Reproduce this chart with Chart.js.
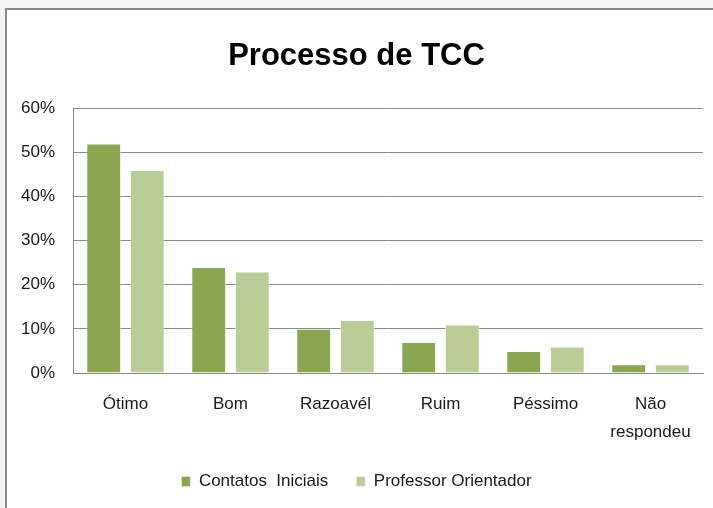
<!DOCTYPE html>
<html>
<head>
<meta charset="utf-8">
<script src="https://cdn.jsdelivr.net/npm/chart.js@4.4.1/dist/chart.umd.min.js"></script>
<style>
  html, body { margin: 0; padding: 0; background: #f3f3f3; }
  body { width: 713px; height: 508px; position: relative; overflow: hidden; }
  #frame {
    position: absolute; left: 5px; top: 8px; width: 760px; height: 560px;
    background: #ffffff; border-left: 2px solid #8a8a8a; border-top: 2px solid #8a8a8a;
  }
  #wrap { position: absolute; left: 0; top: 0; width: 713px; height: 508px; }
</style>
</head>
<body>
<div id="frame"></div>
<div id="wrap"><canvas id="chart"></canvas></div>
<script>
const CATEGORIES = ["Ótimo", "Bom", "Razoavél", "Ruim", "Péssimo", ["Não", "respondeu"]];
const CONTATOS_INICIAIS = [52, 24, 10, 7, 5, 2];
const PROFESSOR_ORIENTADOR = [46, 23, 12, 11, 6, 2];
const Y_TICKS = [0, 10, 20, 30, 40, 50, 60];

const FONT = '"Liberation Sans Narrow", "Liberation Sans", Arial, sans-serif';

const ctx = document.getElementById("chart");

new Chart(ctx, {
  type: "bar",
  data: {
    labels: CATEGORIES,
    datasets: [
      {
        label: "Contatos  Iniciais",
        data: CONTATOS_INICIAIS,
        backgroundColor: "#8aa64f",
        borderColor: "rgba(255,255,255,0.5)",
        borderWidth: 1
      },
      {
        label: "Professor Orientador",
        data: PROFESSOR_ORIENTADOR,
        backgroundColor: "#bacd97",
        borderColor: "rgba(255,255,255,0.5)",
        borderWidth: 1
      }
    ]
  },
  options: {
    responsive: true,
    maintainAspectRatio: false,
    animation: false,
    categoryPercentage: 0.83,
    barPercentage: 0.8,
    layout: { padding: { left: 10, right: 10, top: 20, bottom: 8 } },
    scales: {
      x: {
        grid: { display: false, drawTicks: false },
        border: { display: true, color: "#8a8a8a", width: 1 },
        ticks: {
          color: "#1a1a1a",
          padding: 17,
          maxRotation: 0,
          font: { family: FONT, size: 17, lineHeight: 1.65 }
        },
        afterFit: (scale) => { scale.height = 72; }
      },
      y: {
        min: 0,
        max: 60,
        afterBuildTicks: (scale) => { scale.ticks = Y_TICKS.map((v) => ({ value: v })); },
        grid: { color: "#8a8a8a", drawTicks: false },
        border: { display: true, color: "#8a8a8a", width: 1 },
        ticks: {
          color: "#1a1a1a",
          padding: 18,
          font: { family: FONT, size: 17 },
          callback: (v) => v + "%"
        },
        afterFit: (scale) => { scale.width = 63; }
      }
    },
    plugins: {
      title: {
        display: true,
        text: "Processo de TCC",
        color: "#000000",
        font: { family: FONT, size: 31, weight: "bold" },
        padding: { top: 18, bottom: 33 }
      },
      legend: {
        position: "bottom",
        labels: {
          color: "#1a1a1a",
          boxWidth: 9,
          boxHeight: 10,
          padding: 28,
          font: { family: FONT, size: 17 }
        }
      },
      tooltip: { enabled: false }
    }
  }
});
</script>
</body>
</html>
